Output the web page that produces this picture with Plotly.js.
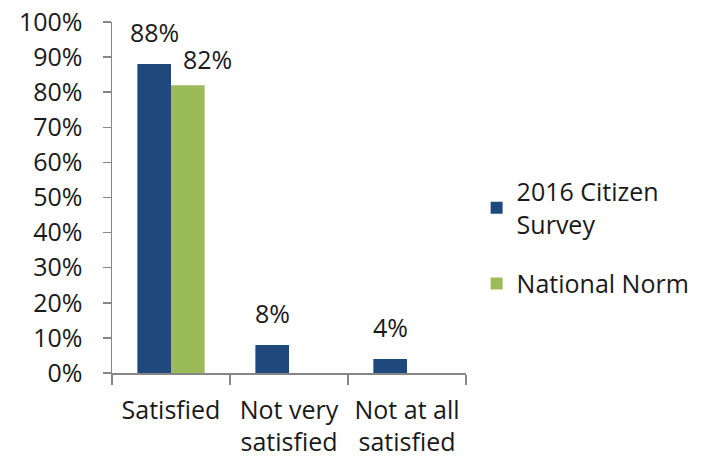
<!DOCTYPE html>
<html>
<head>
<meta charset="utf-8">
<script src="https://cdn.plot.ly/plotly-3.0.1.min.js"></script>
<style>html,body{margin:0;padding:0;background:#fff;}#chart{width:707px;height:465px;}</style>
</head>
<body>
<div id="chart"></div>
<script>
const categories = ["Satisfied", "Not very<br>satisfied", "Not at all<br>satisfied"];
const citizen2016 = [88, 8, 4];
const nationalNorm = [82, null, null];
const seriesNames = ["2016 Citizen<br>Survey", "National Norm"];
const colors = ["#1F497D", "#9BBB59"];

const FONT = "Open Sans, Lato, sans-serif";
const FS = 25;
const halfBar = 0.1425;

const traces = [
  {type: "bar", name: seriesNames[0], legendgroup: "g1", x: categories, y: citizen2016, marker: {color: colors[0]}, hoverinfo: "none"},
  {type: "bar", name: seriesNames[1], legendgroup: "g2", x: categories, y: nationalNorm, marker: {color: colors[1]}, hoverinfo: "none"}
];

const annotations = [];
citizen2016.forEach((v, i) => {
  if (v != null) annotations.push({x: i - halfBar, y: v, xref: "x", yref: "y", text: v + "%", showarrow: false, yanchor: "bottom", yshift: 13, font: {family: FONT, size: FS, color: "#1a1a1a"}});
});
nationalNorm.forEach((v, i) => {
  if (v != null) annotations.push({x: i + halfBar, y: v, xref: "x", yref: "y", text: v + "%", showarrow: false, yanchor: "bottom", yshift: 7, xshift: 20, font: {family: FONT, size: FS, color: "#1a1a1a"}});
});

const layout = {
  width: 707, height: 465,
  margin: {l: 112, r: 236, t: 22, b: 92},
  paper_bgcolor: "#fff", plot_bgcolor: "#fff",
  font: {family: FONT, size: FS, color: "#1a1a1a"},
  barmode: "group", bargap: 0.43, bargroupgap: 0,
  showlegend: true,
  legend: {x: 1.03, y: 0.385, xanchor: "left", yanchor: "middle", font: {family: FONT, size: FS, color: "#1a1a1a"}, tracegroupgap: 24, itemwidth: 30},
  xaxis: {
    type: "category", range: [-0.5, 2.5], showline: true, linecolor: "#868686", linewidth: 1.5,
    ticks: "outside", tickson: "boundaries", ticklen: 10, tickcolor: "#868686", tickwidth: 1.5, ticklabelstandoff: 14,
    showgrid: false, zeroline: false, tickfont: {family: FONT, size: FS, color: "#1a1a1a"}
  },
  yaxis: {
    range: [0, 100], dtick: 10, ticksuffix: "%", showline: true, linecolor: "#868686", linewidth: 1.5,
    ticks: "outside", ticklen: 8, tickcolor: "#868686", tickwidth: 1.5, ticklabelstandoff: 15,
    showgrid: false, zeroline: false, tickfont: {family: FONT, size: FS, color: "#1a1a1a"}
  },
  annotations: annotations
};

Plotly.newPlot("chart", traces, layout, {displayModeBar: false, staticPlot: true});
</script>
</body>
</html>
